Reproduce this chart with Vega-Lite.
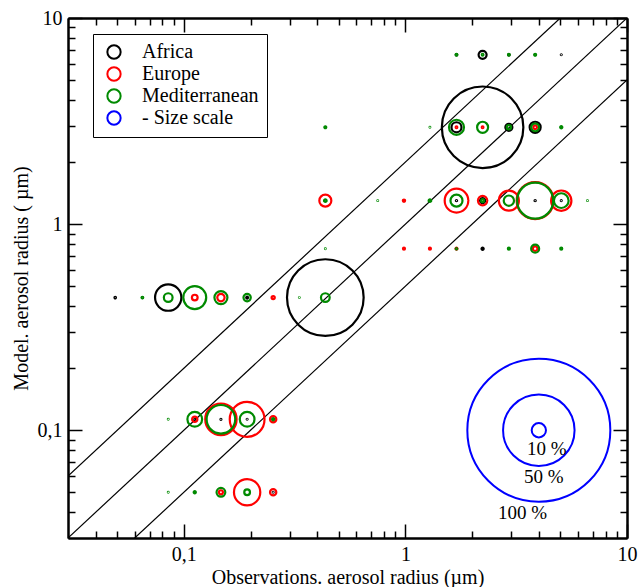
{
  "$schema": "https://vega.github.io/schema/vega-lite/v6.json",
  "width": 559,
  "height": 520,
  "autosize": {"type": "none"},
  "padding": {"left": 68, "top": 18, "right": 11, "bottom": 49},
  "background": "white",
  "config": {
    "font": "Liberation Serif",
    "view": {"stroke": null},
    "axis": {
      "labelFont": "Liberation Serif", "labelFontSize": 20, "labelColor": "black",
      "titleFont": "Liberation Serif", "titleFontSize": 20, "titleFontWeight": "normal", "titleColor": "black",
      "tickColor": "black", "tickWidth": 1.5, "domainColor": "black", "domainWidth": 2,
      "grid": false, "labelFlush": false, "labelOverlap": false, "labelBound": false
    },
    "legend": {
      "orient": "none", "legendX": 25, "legendY": 16,
      "fillColor": "white", "strokeColor": "black", "strokeWidth": 1,
      "padding": 8, "symbolOffset": 3, "symbolSize": 177, "symbolStrokeWidth": 2, "symbolType": "circle",
      "labelFont": "Liberation Serif", "labelFontSize": 20, "labelColor": "black", "labelOffset": 18,
      "rowPadding": 0, "title": null
    }
  },
  "resolve": {"axis": {"x": "independent", "y": "independent"}},
  "layer": [
    {
      "data": {"values": [
        {"line": "2x", "x": 0.03, "y": 0.06}, {"line": "2x", "x": 5, "y": 10},
        {"line": "1x", "x": 0.03, "y": 0.03}, {"line": "1x", "x": 10, "y": 10},
        {"line": "halfx", "x": 0.06, "y": 0.03}, {"line": "halfx", "x": 10, "y": 5}
      ]},
      "mark": {"type": "line", "color": "black", "strokeWidth": 1.2, "clip": true},
      "encoding": {
        "x": {"field": "x", "type": "quantitative", "scale": {"type": "log", "domain": [0.03, 10], "nice": false},
          "axis": {"orient": "bottom", "values": [0.1, 1, 10], "tickSize": -14, "labelPadding": 20,
            "labelExpr": "replace(format(datum.value,'~g'),'.',',')",
            "title": "Observations. aerosol radius (µm)", "titlePadding": 3}},
        "y": {"field": "y", "type": "quantitative", "scale": {"type": "log", "domain": [0.03, 10], "nice": false},
          "axis": {"orient": "left", "values": [0.1, 1, 10], "tickSize": -14, "labelPadding": 20,
            "labelExpr": "replace(format(datum.value,'~g'),'.',',')",
            "title": "Model. aerosol radius ( µm)", "titlePadding": 6}},
        "detail": {"field": "line"}
      }
    },
    {
      "data": {"values": [
        {"region": "Africa", "x": 1.70, "y": 6.63, "pct": 1.0},
        {"region": "Africa", "x": 2.23, "y": 6.63, "pct": 5.6},
        {"region": "Africa", "x": 2.93, "y": 6.63, "pct": 1.0},
        {"region": "Africa", "x": 3.85, "y": 6.63, "pct": 0.6},
        {"region": "Africa", "x": 5.05, "y": 6.63, "pct": 0.6},
        {"region": "Africa", "x": 0.435, "y": 2.95, "pct": 0.6},
        {"region": "Africa", "x": 1.70, "y": 2.95, "pct": 7.0},
        {"region": "Africa", "x": 2.23, "y": 2.95, "pct": 57},
        {"region": "Africa", "x": 2.93, "y": 2.95, "pct": 4.9},
        {"region": "Africa", "x": 3.85, "y": 2.95, "pct": 7.7},
        {"region": "Africa", "x": 0.985, "y": 1.30, "pct": 0.6},
        {"region": "Africa", "x": 1.29, "y": 1.30, "pct": 0.8},
        {"region": "Africa", "x": 1.70, "y": 1.30, "pct": 0.8},
        {"region": "Africa", "x": 2.23, "y": 1.30, "pct": 3.5},
        {"region": "Africa", "x": 3.85, "y": 1.30, "pct": 0.8},
        {"region": "Africa", "x": 5.05, "y": 1.30, "pct": 0.6},
        {"region": "Africa", "x": 1.70, "y": 0.76, "pct": 0.8},
        {"region": "Africa", "x": 2.23, "y": 0.76, "pct": 1.5},
        {"region": "Africa", "x": 0.049, "y": 0.44, "pct": 1.0},
        {"region": "Africa", "x": 0.065, "y": 0.44, "pct": 0.7},
        {"region": "Africa", "x": 0.085, "y": 0.44, "pct": 18.4},
        {"region": "Africa", "x": 0.193, "y": 0.44, "pct": 1.3},
        {"region": "Africa", "x": 0.435, "y": 0.44, "pct": 53.6},
        {"region": "Africa", "x": 0.112, "y": 0.113, "pct": 0.7},
        {"region": "Africa", "x": 0.147, "y": 0.113, "pct": 0.7},
        {"region": "Africa", "x": 0.193, "y": 0.113, "pct": 0.6},
        {"region": "Africa", "x": 0.253, "y": 0.050, "pct": 0.6},
        {"region": "Europe", "x": 1.70, "y": 2.95, "pct": 1.2},
        {"region": "Europe", "x": 2.23, "y": 2.95, "pct": 1.2},
        {"region": "Europe", "x": 3.85, "y": 2.95, "pct": 2.5},
        {"region": "Europe", "x": 0.435, "y": 1.30, "pct": 8.4},
        {"region": "Europe", "x": 0.985, "y": 1.30, "pct": 1.5},
        {"region": "Europe", "x": 1.70, "y": 1.30, "pct": 16.5},
        {"region": "Europe", "x": 2.23, "y": 1.30, "pct": 6.5},
        {"region": "Europe", "x": 2.93, "y": 1.30, "pct": 14},
        {"region": "Europe", "x": 3.85, "y": 1.30, "pct": 25.8},
        {"region": "Europe", "x": 5.05, "y": 1.30, "pct": 14.2},
        {"region": "Europe", "x": 0.985, "y": 0.76, "pct": 1.4},
        {"region": "Europe", "x": 1.29, "y": 0.76, "pct": 1.4},
        {"region": "Europe", "x": 1.70, "y": 0.76, "pct": 1.3},
        {"region": "Europe", "x": 3.85, "y": 0.76, "pct": 3.2},
        {"region": "Europe", "x": 0.112, "y": 0.44, "pct": 4.0},
        {"region": "Europe", "x": 0.147, "y": 0.44, "pct": 5.1},
        {"region": "Europe", "x": 0.253, "y": 0.44, "pct": 2.2},
        {"region": "Europe", "x": 0.112, "y": 0.113, "pct": 3.7},
        {"region": "Europe", "x": 0.147, "y": 0.113, "pct": 21.9},
        {"region": "Europe", "x": 0.193, "y": 0.113, "pct": 24.3},
        {"region": "Europe", "x": 0.253, "y": 0.113, "pct": 4.4},
        {"region": "Europe", "x": 0.147, "y": 0.050, "pct": 2.8},
        {"region": "Europe", "x": 0.193, "y": 0.050, "pct": 18.4},
        {"region": "Europe", "x": 0.253, "y": 0.050, "pct": 4.4},
        {"region": "Mediterranean", "x": 1.70, "y": 6.63, "pct": 1.2},
        {"region": "Mediterranean", "x": 2.23, "y": 6.63, "pct": 1.2},
        {"region": "Mediterranean", "x": 2.93, "y": 6.63, "pct": 1.2},
        {"region": "Mediterranean", "x": 3.85, "y": 6.63, "pct": 1.3},
        {"region": "Mediterranean", "x": 0.435, "y": 2.95, "pct": 1.3},
        {"region": "Mediterranean", "x": 1.29, "y": 2.95, "pct": 0.5},
        {"region": "Mediterranean", "x": 1.70, "y": 2.95, "pct": 10.5},
        {"region": "Mediterranean", "x": 2.23, "y": 2.95, "pct": 7.7},
        {"region": "Mediterranean", "x": 2.93, "y": 2.95, "pct": 3.0},
        {"region": "Mediterranean", "x": 3.85, "y": 2.95, "pct": 5.5},
        {"region": "Mediterranean", "x": 5.05, "y": 2.95, "pct": 1.5},
        {"region": "Mediterranean", "x": 0.435, "y": 1.30, "pct": 1.8},
        {"region": "Mediterranean", "x": 0.75, "y": 1.30, "pct": 0.5},
        {"region": "Mediterranean", "x": 1.29, "y": 1.30, "pct": 1.8},
        {"region": "Mediterranean", "x": 1.70, "y": 1.30, "pct": 8.4},
        {"region": "Mediterranean", "x": 2.23, "y": 1.30, "pct": 2.0},
        {"region": "Mediterranean", "x": 2.93, "y": 1.30, "pct": 7.2},
        {"region": "Mediterranean", "x": 3.85, "y": 1.30, "pct": 25.2},
        {"region": "Mediterranean", "x": 5.05, "y": 1.30, "pct": 10.3},
        {"region": "Mediterranean", "x": 6.63, "y": 1.30, "pct": 0.5},
        {"region": "Mediterranean", "x": 0.435, "y": 0.76, "pct": 0.5},
        {"region": "Mediterranean", "x": 1.70, "y": 0.76, "pct": 0.9},
        {"region": "Mediterranean", "x": 2.93, "y": 0.76, "pct": 1.4},
        {"region": "Mediterranean", "x": 3.85, "y": 0.76, "pct": 5.6},
        {"region": "Mediterranean", "x": 5.05, "y": 0.76, "pct": 1.4},
        {"region": "Mediterranean", "x": 0.065, "y": 0.44, "pct": 1.2},
        {"region": "Mediterranean", "x": 0.085, "y": 0.44, "pct": 6.1},
        {"region": "Mediterranean", "x": 0.112, "y": 0.44, "pct": 16},
        {"region": "Mediterranean", "x": 0.147, "y": 0.44, "pct": 9.1},
        {"region": "Mediterranean", "x": 0.193, "y": 0.44, "pct": 5.1},
        {"region": "Mediterranean", "x": 0.332, "y": 0.44, "pct": 0.5},
        {"region": "Mediterranean", "x": 0.435, "y": 0.44, "pct": 6.1},
        {"region": "Mediterranean", "x": 0.085, "y": 0.113, "pct": 0.5},
        {"region": "Mediterranean", "x": 0.112, "y": 0.113, "pct": 10.3},
        {"region": "Mediterranean", "x": 0.147, "y": 0.113, "pct": 20},
        {"region": "Mediterranean", "x": 0.193, "y": 0.113, "pct": 10.3},
        {"region": "Mediterranean", "x": 0.253, "y": 0.113, "pct": 1.5},
        {"region": "Mediterranean", "x": 0.085, "y": 0.050, "pct": 0.5},
        {"region": "Mediterranean", "x": 0.112, "y": 0.050, "pct": 1.5},
        {"region": "Mediterranean", "x": 0.147, "y": 0.050, "pct": 6.1},
        {"region": "Mediterranean", "x": 0.193, "y": 0.050, "pct": 4.0}
      ]},
      "mark": {"type": "point", "shape": "circle", "filled": false, "strokeWidth": 2.2, "opacity": 1},
      "encoding": {
        "x": {"field": "x", "type": "quantitative", "scale": {"type": "log", "domain": [0.03, 10], "nice": false},
          "axis": {"orient": "bottom", "values": [0.04,0.05,0.06,0.07,0.08,0.09,0.2,0.3,0.4,0.5,0.6,0.7,0.8,0.9,2,3,4,5,6,7,8,9], "tickSize": -7, "labels": false, "title": null}},
        "y": {"field": "y", "type": "quantitative", "scale": {"type": "log", "domain": [0.03, 10], "nice": false},
          "axis": {"orient": "left", "values": [0.04,0.05,0.06,0.07,0.08,0.09,0.2,0.3,0.4,0.5,0.6,0.7,0.8,0.9,2,3,4,5,6,7,8,9], "tickSize": -7, "labels": false, "title": null}},
        "color": {"field": "region", "type": "nominal",
          "scale": {"domain": ["Africa", "Europe", "Mediterranean", "- Size scale"], "range": ["#000000", "#ff0000", "#008a00", "#0000ff"]}},
        "size": {"field": "pct", "type": "quantitative", "scale": {"type": "pow", "exponent": 2, "domain": [0, 100], "range": [0, 20449]}, "legend": null},
        "order": {"value": 0}
      }
    },
    {
      "data": {"values": [
        {"region": "- Size scale", "x": 4, "y": 0.1, "pct": 10},
        {"region": "- Size scale", "x": 4, "y": 0.1, "pct": 50},
        {"region": "- Size scale", "x": 4, "y": 0.1, "pct": 100}
      ]},
      "mark": {"type": "point", "shape": "circle", "filled": false, "strokeWidth": 2, "opacity": 1},
      "encoding": {
        "x": {"field": "x", "type": "quantitative", "scale": {"type": "log", "domain": [0.03, 10], "nice": false},
          "axis": {"orient": "top", "values": [0.1, 1, 10], "tickSize": -14, "labels": false, "title": null}},
        "y": {"field": "y", "type": "quantitative", "scale": {"type": "log", "domain": [0.03, 10], "nice": false},
          "axis": {"orient": "right", "values": [0.1, 1, 10], "tickSize": -14, "labels": false, "title": null}},
        "color": {"field": "region", "type": "nominal",
          "scale": {"domain": ["Africa", "Europe", "Mediterranean", "- Size scale"], "range": ["#000000", "#ff0000", "#008a00", "#0000ff"]}},
        "size": {"field": "pct", "type": "quantitative", "scale": {"type": "pow", "exponent": 2, "domain": [0, 100], "range": [0, 20449]}, "legend": null}
      }
    },
    {
      "data": {"values": [
        {"label": "10 %", "x": 4.35, "y": 0.0815},
        {"label": "50 %", "x": 4.21, "y": 0.0596},
        {"label": "100 %", "x": 3.38, "y": 0.0398}
      ]},
      "mark": {"type": "text", "font": "Liberation Serif", "fontSize": 19, "color": "black", "align": "center", "baseline": "middle"},
      "encoding": {
        "x": {"field": "x", "type": "quantitative", "scale": {"type": "log", "domain": [0.03, 10], "nice": false},
          "axis": {"orient": "top", "values": [0.04,0.05,0.06,0.07,0.08,0.09,0.2,0.3,0.4,0.5,0.6,0.7,0.8,0.9,2,3,4,5,6,7,8,9], "tickSize": -7, "labels": false, "title": null}},
        "y": {"field": "y", "type": "quantitative", "scale": {"type": "log", "domain": [0.03, 10], "nice": false},
          "axis": {"orient": "right", "values": [0.04,0.05,0.06,0.07,0.08,0.09,0.2,0.3,0.4,0.5,0.6,0.7,0.8,0.9,2,3,4,5,6,7,8,9], "tickSize": -7, "labels": false, "title": null}},
        "text": {"field": "label"}
      }
    }
  ]
}
